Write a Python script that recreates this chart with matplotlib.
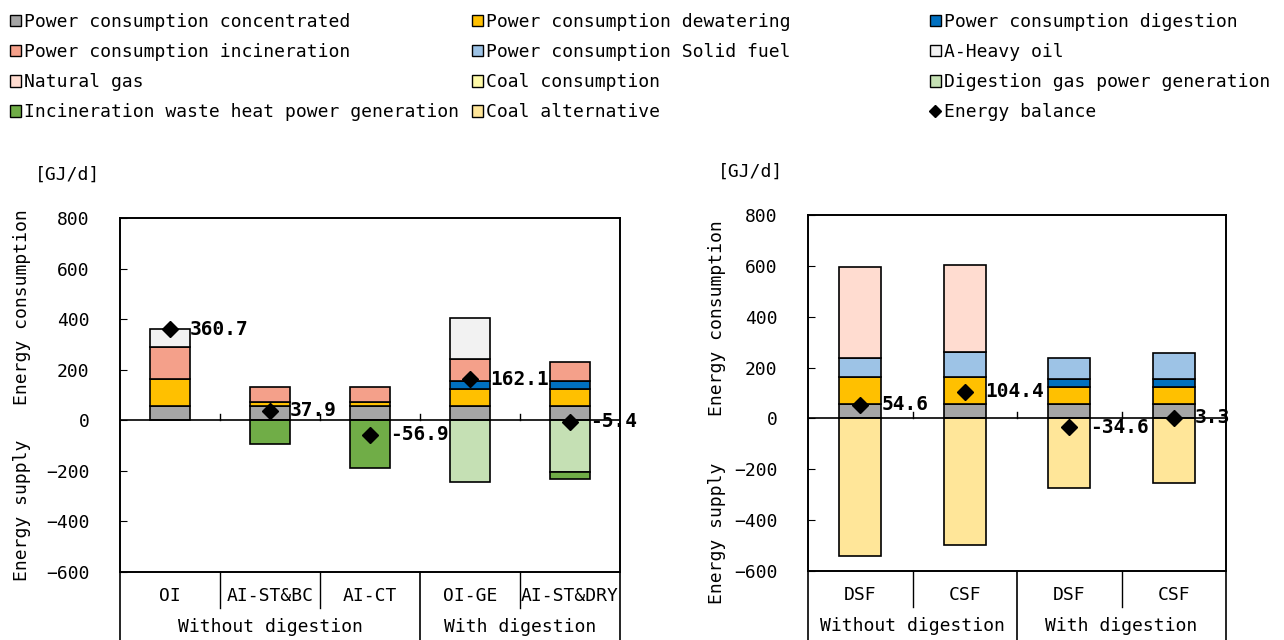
import numpy as np
import matplotlib
matplotlib.use("Agg")
from matplotlib import pyplot as plt
from matplotlib.patches import Patch
from matplotlib.lines import Line2D
import matplotlib.transforms as mtransforms

plt.rcParams['font.family'] = ['DejaVu Sans Mono']
FS = 13

series_names = ['Power consumption concentrated', 'Power consumption dewatering',
                'Power consumption digestion', 'Power consumption incineration',
                'Power consumption Solid fuel', 'A-Heavy oil', 'Natural gas',
                'Coal consumption', 'Digestion gas power generation',
                'Incineration waste heat power generation', 'Coal alternative']
colors = ['#A5A5A5', '#FFC000', '#0070C0', '#F4A08A', '#9DC3E6', '#F2F2F2',
          '#FFDCD0', '#FFFAA8', '#C5E0B4', '#70AD47', '#FFE699']

# left chart
left_categories = ['OI', 'AI-ST&BC', 'AI-CT', 'OI-GE', 'AI-ST&DRY']
left_groups = ['Without digestion', 'With digestion']
left_group_sizes = [3, 2]
concentrated_L = [55, 55, 55, 55, 55]
dewatering_L = [107, 17, 17, 70, 70]
digestion_L = [0, 0, 0, 30, 30]
incineration_L = [128, 60, 60, 86, 74]
solidfuel_L = [0, 0, 0, 0, 0]
heavyoil_L = [70, 0, 0, 165, 0]
natgas_L = [0, 0, 0, 0, 0]
coal_L = [0, 0, 0, 0, 0]
diggas_L = [0, 0, 0, -244, -205]
wasteheat_L = [0, -94, -189, 0, -29]
coalalt_L = [0, 0, 0, 0, 0]
balance_L = [360.7, 37.9, -56.9, 162.1, -5.4]

# right chart
right_categories = ['DSF', 'CSF', 'DSF', 'CSF']
right_groups = ['Without digestion', 'With digestion']
right_group_sizes = [2, 2]
concentrated_R = [56, 56, 56, 56]
dewatering_R = [108, 108, 68, 68]
digestion_R = [0, 0, 32, 32]
incineration_R = [0, 0, 0, 0]
solidfuel_R = [74, 98, 82, 100]
heavyoil_R = [0, 0, 0, 0]
natgas_R = [358, 340, 0, 0]
coal_R = [0, 0, 0, 0]
diggas_R = [0, 0, 0, 0]
wasteheat_R = [0, 0, 0, 0]
coalalt_R = [-541, -497, -273, -253]
balance_R = [54.6, 104.4, -34.6, 3.3]

left_series = [concentrated_L, dewatering_L, digestion_L, incineration_L, solidfuel_L,
               heavyoil_L, natgas_L, coal_L, diggas_L, wasteheat_L, coalalt_L]
right_series = [concentrated_R, dewatering_R, digestion_R, incineration_R, solidfuel_R,
                heavyoil_R, natgas_R, coal_R, diggas_R, wasteheat_R, coalalt_R]


def draw(ax, cats, series, balance, groups, group_sizes):
    n = len(cats)
    x = np.arange(n)
    pos = np.zeros(n)
    neg = np.zeros(n)
    for vals, c in zip(series, colors):
        vals = np.array(vals, dtype=float)
        m = vals != 0
        if not m.any():
            continue
        bottom = np.where(vals > 0, pos, neg)
        ax.bar(x[m], vals[m], 0.4, bottom=bottom[m], color=c,
               edgecolor='black', linewidth=1.2, zorder=3)
        pos += np.where(vals > 0, vals, 0)
        neg += np.where(vals < 0, vals, 0)
    ax.plot(x, balance, 'D', color='black', markersize=8, zorder=5)
    for xi, b in zip(x, balance):
        ax.text(xi + 0.2, b, f'{b:.1f}', ha='left', va='center',
                fontsize=14, fontweight='bold', zorder=6)
    ax.axhline(0, color='black', linewidth=1.2, zorder=4)
    # small category ticks on the zero line
    for b in np.arange(0.5, n - 0.5):
        ax.plot([b, b], [0, 24], color='black', linewidth=1, zorder=4)

    ax.set_xlim(-0.5, n - 0.5)
    ax.set_ylim(-600, 800)
    ax.set_yticks(np.arange(-600, 801, 200))
    ax.tick_params(axis='y', direction='in', length=5, pad=22, labelsize=FS)
    ax.set_xticks([])
    for s in ax.spines.values():
        s.set_linewidth(1.4)

    trans = mtransforms.blended_transform_factory(ax.transData, ax.transAxes)
    h = ax.get_position().height * 640
    for xi, c in zip(x, cats):
        ax.text(xi, -24 / h, c, transform=trans, ha='center', va='center', fontsize=FS)
    edges = np.concatenate([[0], np.cumsum(group_sizes)]) - 0.5
    for b in np.arange(0.5, n - 0.5):
        if b not in edges:
            ax.plot([b, b], [0, -36 / h], transform=trans, color='black',
                    linewidth=1, clip_on=False)
    for b in edges:
        ax.plot([b, b], [0, -80 / h], transform=trans, color='black',
                linewidth=1.2, clip_on=False)
    for i, g in enumerate(groups):
        cx = (edges[i] + edges[i + 1]) / 2
        ax.text(cx, -55 / h, g, transform=trans, ha='center', va='center', fontsize=FS)


fig = plt.figure(figsize=(12.84, 6.4), dpi=100)
ax1 = fig.add_axes([120 / 1284, 1 - 572 / 640, 500 / 1284, 354 / 640])
ax2 = fig.add_axes([808 / 1284, 1 - 571 / 640, 418 / 1284, 356 / 640])
draw(ax1, left_categories, left_series, balance_L, left_groups, left_group_sizes)
draw(ax2, right_categories, right_series, balance_R, right_groups, right_group_sizes)

# axis titles
fig.text(35 / 1284, 1 - 175 / 640, '[GJ/d]', ha='left', va='center', fontsize=FS)
fig.text(718 / 1284, 1 - 172 / 640, '[GJ/d]', ha='left', va='center', fontsize=FS)
fig.text(22 / 1284, 1 - 307 / 640, 'Energy consumption', rotation=90, ha='center', va='center', fontsize=FS)
fig.text(22 / 1284, 1 - 510 / 640, 'Energy supply', rotation=90, ha='center', va='center', fontsize=FS)
fig.text(717 / 1284, 1 - 318 / 640, 'Energy consumption', rotation=90, ha='center', va='center', fontsize=FS)
fig.text(717 / 1284, 1 - 533 / 640, 'Energy supply', rotation=90, ha='center', va='center', fontsize=FS)

# legend in three columns
handles = [Patch(facecolor=c, edgecolor='black', linewidth=1) for c in colors]
handles.append(Line2D([], [], marker='D', color='black', linestyle='none', markersize=6))
labels = series_names + ['Energy balance']
cols = [[0, 3, 6, 9], [1, 4, 7, 10], [2, 5, 8, 11]]
col_x = [10, 472, 930]
for idx, cx in zip(cols, col_x):
    fig.legend([handles[i] for i in idx], [labels[i] for i in idx],
               loc='upper left', bbox_to_anchor=(cx / 1284, 1 - 13 / 640),
               frameon=False, fontsize=FS, borderpad=0, borderaxespad=0,
               handlelength=0.6, handleheight=0.6, handletextpad=0.15,
               labelspacing=0.67)

fig.savefig('out.png', dpi=100)
